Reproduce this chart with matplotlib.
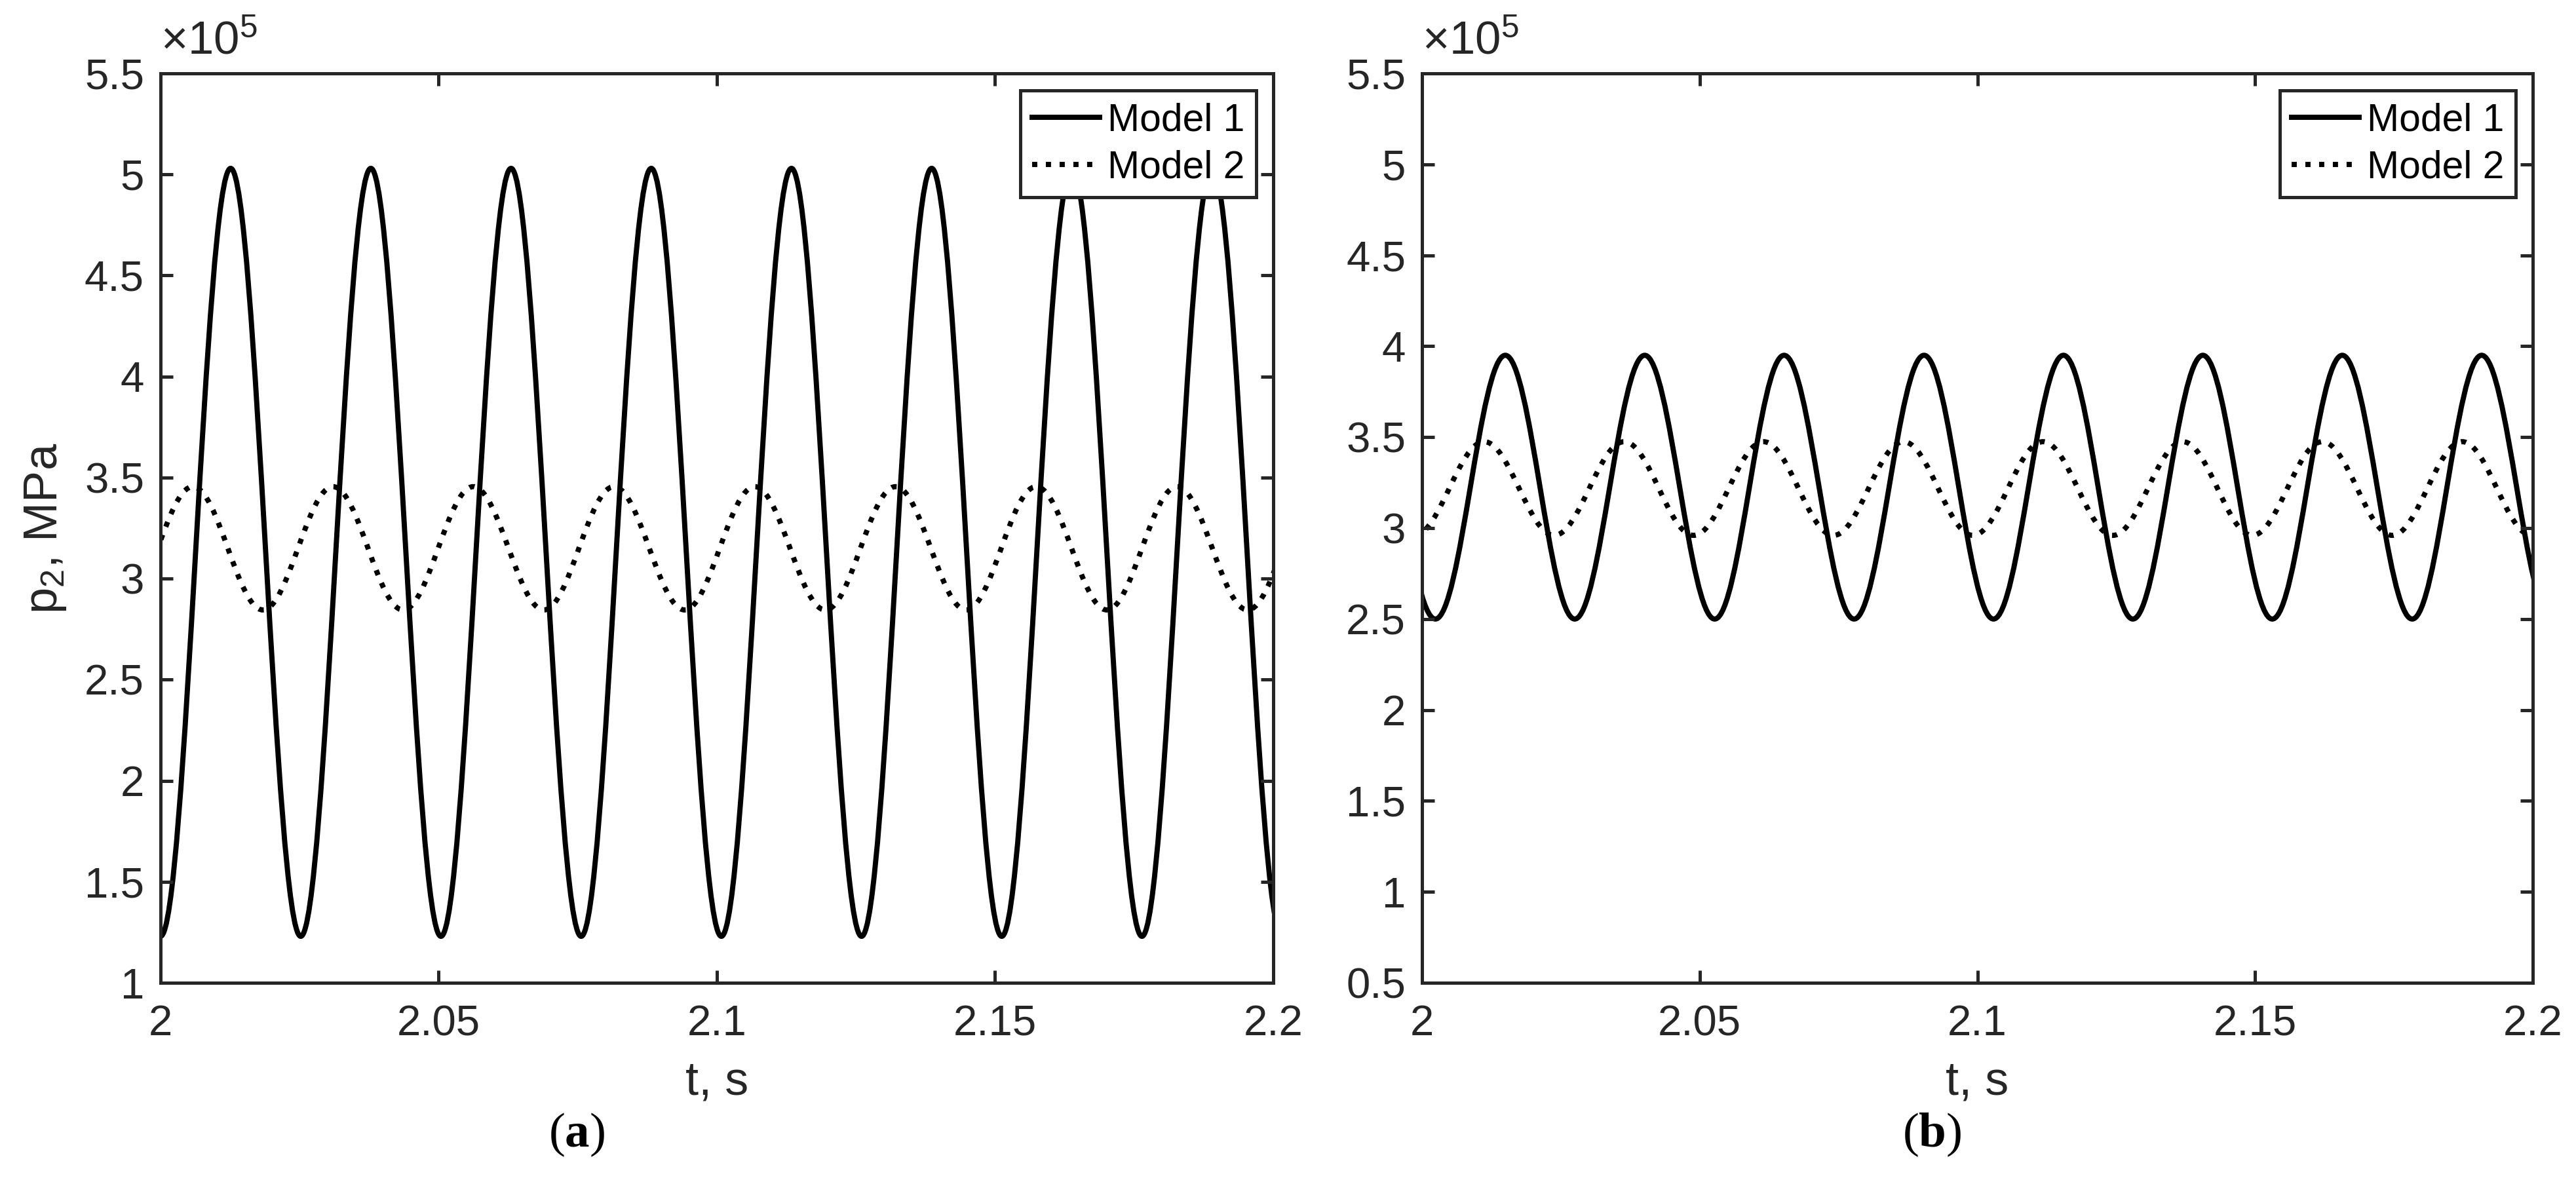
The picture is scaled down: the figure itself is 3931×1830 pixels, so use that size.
import matplotlib
matplotlib.use('Agg')
import matplotlib.pyplot as plt
from matplotlib.path import Path
from matplotlib.patches import PathPatch
from matplotlib.lines import Line2D

plt.rcParams['font.family'] = ['Liberation Sans', 'DejaVu Sans']
plt.rcParams['mathtext.fontset'] = 'custom'
plt.rcParams['mathtext.bf'] = 'Liberation Serif:bold'

# peaks / troughs, p2 in units of 1e5 Pa
t_a1 = [2.0000, 2.0126, 2.0252, 2.0378, 2.0504, 2.0630, 2.0756, 2.0882, 2.1008,
        2.1134, 2.1260, 2.1386, 2.1512, 2.1638, 2.1764, 2.1890, 2.2016]
p_a1 = [1.23, 5.03, 1.23, 5.03, 1.23, 5.03, 1.23, 5.03, 1.23,
        5.03, 1.23, 5.03, 1.23, 5.03, 1.23, 5.03, 1.23]

t_a2 = [1.9932, 2.0058, 2.0184, 2.0310, 2.0436, 2.0562, 2.0689, 2.0815, 2.0942,
        2.1068, 2.1195, 2.1321, 2.1448, 2.1574, 2.1701, 2.1827, 2.1954, 2.2080]
p_a2 = [2.845, 3.455, 2.845, 3.455, 2.845, 3.455, 2.845, 3.455, 2.845,
        3.455, 2.845, 3.455, 2.845, 3.455, 2.845, 3.455, 2.845, 3.455]

t_b1 = [1.9898, 2.0024, 2.0150, 2.0275, 2.0401, 2.0527, 2.0652, 2.0778, 2.0904,
        2.1029, 2.1155, 2.1280, 2.1406, 2.1531, 2.1657, 2.1783, 2.1908, 2.2034]
p_b1 = [3.95, 2.50, 3.95, 2.50, 3.95, 2.50, 3.95, 2.50, 3.95,
        2.50, 3.95, 2.50, 3.95, 2.50, 3.95, 2.50, 3.95, 2.50]

t_b2 = [1.9986, 2.0112, 2.0238, 2.0364, 2.0489, 2.0615, 2.0741, 2.0867, 2.0992,
        2.1118, 2.1244, 2.1370, 2.1495, 2.1621, 2.1747, 2.1873, 2.1998, 2.2124]
p_b2 = [2.96, 3.475, 2.96, 3.475, 2.96, 3.475, 2.96, 3.475, 2.96,
        3.475, 2.96, 3.475, 2.96, 3.475, 2.96, 3.475, 2.96, 3.475]

x_ticks = [2, 2.05, 2.1, 2.15, 2.2]
y_ticks_a = [1, 1.5, 2, 2.5, 3, 3.5, 4, 4.5, 5, 5.5]
y_ticks_b = [0.5, 1, 1.5, 2, 2.5, 3, 3.5, 4, 4.5, 5, 5.5]
labels = ['Model 1', 'Model 2']

dark = '#262626'
lw = 1.9


def wave(t, p):
    # smooth half-waves between consecutive extremes (cubic bezier, flat tangents)
    verts = [(t[0], p[0])]
    codes = [Path.MOVETO]
    for i in range(len(t) - 1):
        d = t[i + 1] - t[i]
        verts += [(t[i] + 0.364 * d, p[i]), (t[i + 1] - 0.364 * d, p[i + 1]), (t[i + 1], p[i + 1])]
        codes += [Path.CURVE4] * 3
    return Path(verts, codes)


def panel(ax, s1, s2, yticks, ylim):
    ax.add_patch(PathPatch(wave(*s1), fill=False, color='k', lw=lw, ls='-'))
    ax.add_patch(PathPatch(wave(*s2), fill=False, color='k', lw=lw, ls=':'))
    ax.set_xlim(2, 2.2)
    ax.set_ylim(*ylim)
    ax.set_xticks(x_ticks)
    ax.set_xticklabels(['%g' % v for v in x_ticks])
    ax.set_yticks(yticks)
    ax.set_yticklabels(['%g' % v for v in yticks])
    ax.tick_params(direction='in', length=4.6, width=1.2, top=True, right=True,
                   labelsize=15.7, colors=dark)
    ax.tick_params(axis='x', pad=8)
    ax.tick_params(axis='y', pad=6)
    for s in ax.spines.values():
        s.set_color(dark)
        s.set_linewidth(1.2)
    ax.set_xlabel('t, s', fontsize=17.3, color=dark, labelpad=6)
    ax.text(0.0, 1.01, '×$\\mathregular{10^{5}}$', transform=ax.transAxes,
            ha='left', va='bottom', fontsize=17, color=dark)
    handles = [Line2D([], [], color='k', lw=lw, ls='-'),
               Line2D([], [], color='k', lw=lw, ls=':')]
    leg = ax.legend(handles, labels, loc='upper right', fancybox=False, framealpha=1,
                    edgecolor=dark, fontsize=14.1, borderaxespad=0.45, borderpad=0.3,
                    labelspacing=0.3, handlelength=1.75, handletextpad=0.2)
    leg.get_frame().set_linewidth(1.2)


fig = plt.figure(figsize=(3931 / 300, 1830 / 300), dpi=300)
ax_a = fig.add_axes([245 / 3931, 330 / 1830, 1698 / 3931, 1388 / 1830])
ax_b = fig.add_axes([2170 / 3931, 330 / 1830, 1695 / 3931, 1388 / 1830])

panel(ax_a, (t_a1, p_a1), (t_a2, p_a2), y_ticks_a, (1, 5.5))
panel(ax_b, (t_b1, p_b1), (t_b2, p_b2), y_ticks_b, (0.5, 5.5))
ax_a.set_ylabel('p$_\\mathregular{2}$, MPa', fontsize=17.3, color=dark, labelpad=6)

fig.text(880 / 3931, 1 - 1732 / 1830, '($\\mathbf{a}$)', family='Liberation Serif',
         fontsize=18, ha='center', va='center')
fig.text(2948 / 3931, 1 - 1732 / 1830, '($\\mathbf{b}$)', family='Liberation Serif',
         fontsize=18, ha='center', va='center')

fig.savefig('out.png', dpi=300, facecolor='white')
